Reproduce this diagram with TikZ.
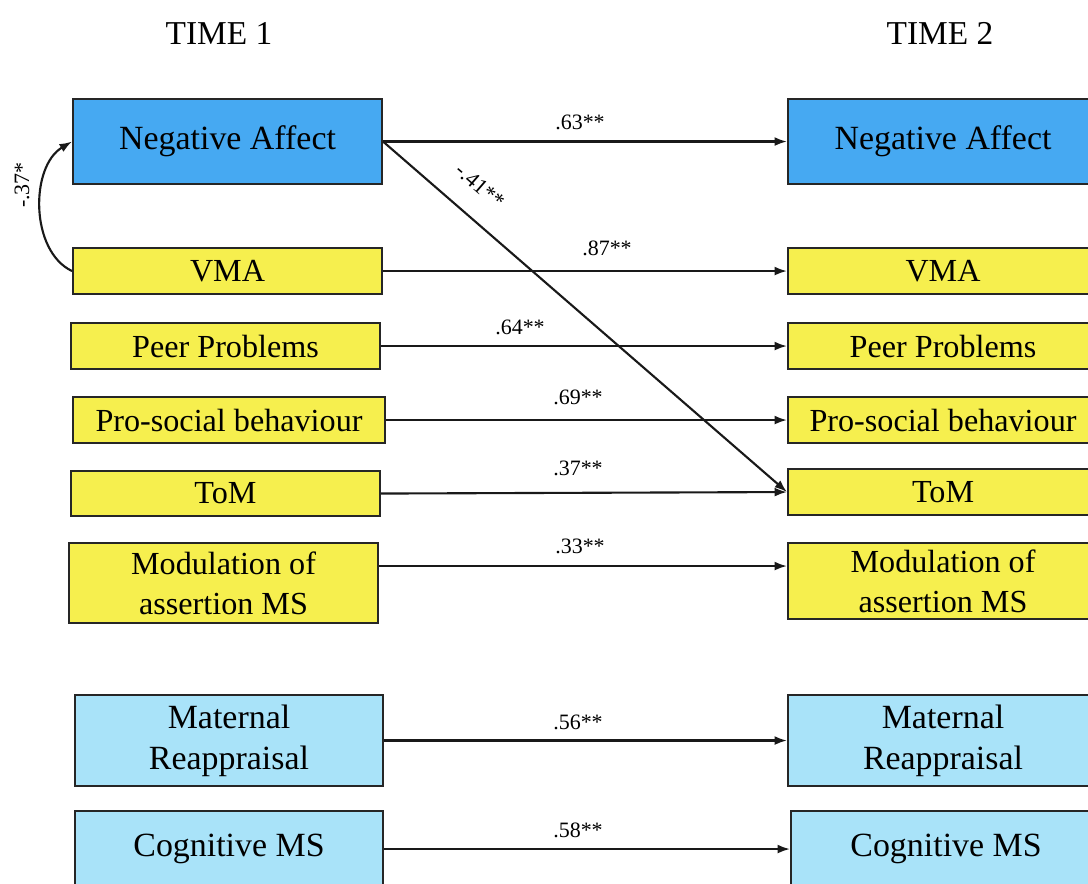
\documentclass[tikz,border=0pt]{standalone}
\usepackage{fontspec}
\setmainfont{Liberation Serif}
\usetikzlibrary{arrows.meta}
\definecolor{nablue}{HTML}{46A9F2}
\definecolor{varyellow}{HTML}{F6EF4E}
\definecolor{paleblue}{HTML}{A9E3F9}
\begin{document}
\begin{tikzpicture}[x=0.02cm,y=-0.02cm,
  box/.style={draw=black!85, line width=1.2pt, anchor=north west, inner sep=0pt, align=center, text=black},
  mainbox/.style={box, fill=nablue, font=\fontsize{19.3}{23}\selectfont},
  varbox/.style={box, fill=varyellow, font=\fontsize{18.3}{22.7}\selectfont},
  regbox/.style={box, fill=paleblue, font=\fontsize{19.3}{23.2}\selectfont},
  heading/.style={font=\fontsize{19}{22}\selectfont, inner sep=0pt},
  link/.style={-{Latex[length=0.25cm,width=0.18cm]}, line width=1.2pt, draw=black!90},
  coef/.style={font=\fontsize{12.5}{14}\selectfont, inner sep=0pt}
]
\useasboundingbox (0,0) rectangle (1088,884);

% column headings
\node[heading] (t1) at (219,33) {TIME 1};
\node[heading] (t2) at (940,33) {TIME 2};

% time 1 measures
\node[mainbox, minimum width=6.18cm, minimum height=1.70cm] (na1) at (72,98) {Negative Affect};
\node[varbox, minimum width=6.18cm, minimum height=0.92cm] (vma1) at (72,247) {VMA};
\node[varbox, minimum width=6.18cm, minimum height=0.92cm] (peer1) at (70,322) {Peer Problems};
\node[varbox, minimum width=6.24cm, minimum height=0.92cm] (pro1) at (72,396) {Pro-social behaviour};
\node[varbox, minimum width=6.18cm, minimum height=0.90cm] (tom1) at (70,470) {ToM};
\node[varbox, minimum width=6.18cm, minimum height=1.60cm] (mod1) at (68,542) {Modulation of\\assertion MS};
\node[regbox, minimum width=6.16cm, minimum height=1.82cm] (mat1) at (74,694) {Maternal\\Reappraisal};
\node[regbox, minimum width=6.16cm, minimum height=1.52cm] (cog1) at (74,810) {Cognitive MS};

% time 2 measures
\node[mainbox, minimum width=6.20cm, minimum height=1.70cm] (na2) at (787,98) {Negative Affect};
\node[varbox, minimum width=6.20cm, minimum height=0.92cm] (vma2) at (787,247) {VMA};
\node[varbox, minimum width=6.20cm, minimum height=0.92cm] (peer2) at (787,322) {Peer Problems};
\node[varbox, minimum width=6.20cm, minimum height=0.92cm] (pro2) at (787,396) {Pro-social behaviour};
\node[varbox, minimum width=6.20cm, minimum height=0.92cm] (tom2) at (787,468) {ToM};
\node[varbox, minimum width=6.20cm, minimum height=1.52cm] (mod2) at (787,542) {Modulation of\\assertion MS};
\node[regbox, minimum width=6.20cm, minimum height=1.82cm] (mat2) at (787,694) {Maternal\\Reappraisal};
\node[regbox, minimum width=6.20cm, minimum height=1.52cm] (cog2) at (790,810) {Cognitive MS};

% stability paths
\draw[link] (na1.east) -- (na2.west);
\draw[link] (vma1.east) -- (vma2.west);
\draw[link] (peer1.east) -- (peer2.west);
\draw[link] (pro1.east) -- (pro2.west);
\draw[link] (tom1.east) -- (tom2.west);
\draw[link] ([yshift=0.34cm]mod1.east) -- ([yshift=0.34cm]mod1.east -| mod2.west);
\draw[link] (mat1.east) -- (mat2.west);
\draw[link] (cog1.east) -- (cog2.west);

% cross-lagged path and covariance
\draw[link] (na1.east) -- (tom2.west);
\draw[link] (vma1.west) .. controls +(-42,-20) and +(-42,25) .. (na1.west);

% coefficients
\node[coef] (c63) at (580,122) {.63**};
\node[coef] (c87) at (607,248) {.87**};
\node[coef] (c64) at (520,327) {.64**};
\node[coef] (c69) at (578,397) {.69**};
\node[coef] (c37) at (578,468) {.37**};
\node[coef] (c33) at (580,546) {.33**};
\node[coef] (c56) at (578,722) {.56**};
\node[coef] (c58) at (578,830) {.58**};
\node[coef, rotate=-40.8] (c41) at (480,186) {-.41**};
\node[coef, rotate=90] (cr37) at (22,185) {-.37*};
\end{tikzpicture}
\end{document}
